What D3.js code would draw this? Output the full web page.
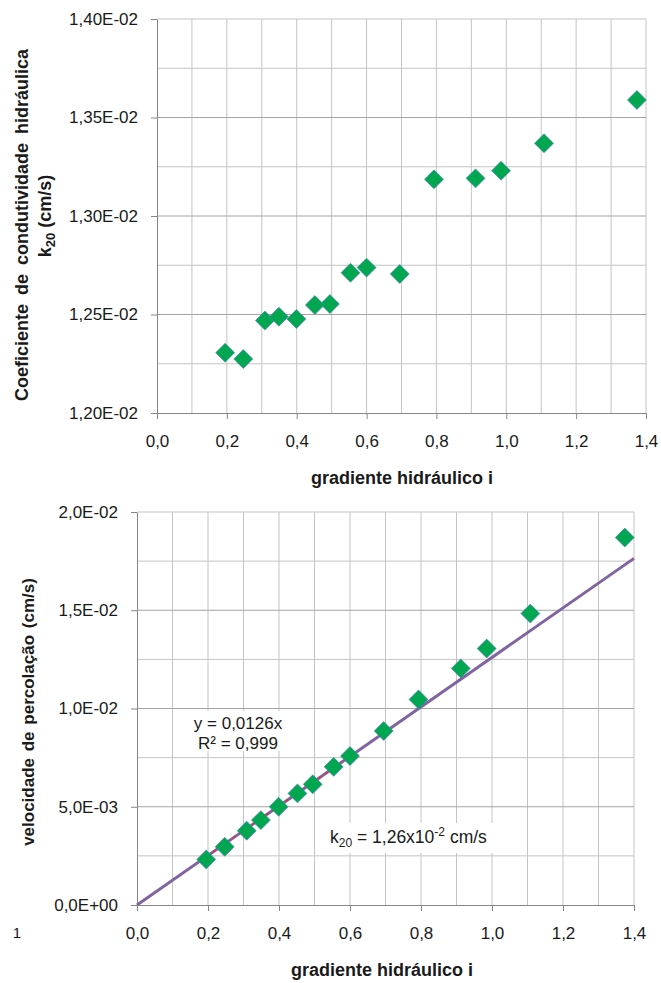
<!DOCTYPE html>
<html>
<head>
<meta charset="utf-8">
<script src="https://cdn.jsdelivr.net/npm/d3@7"></script>
<style>
    body { margin: 0; background: #fff; }
    svg { display: block; font-family: "Liberation Sans", Arial, sans-serif; }
</style>
</head>
<body>
<div id="chart"></div>
<script>
// Data
const gradient = [0.195, 0.247, 0.309, 0.349, 0.399, 0.452, 0.495, 0.554, 0.600, 0.695, 0.793, 0.912, 0.985, 1.108, 1.374];
const k20 = [0.012306, 0.012274, 0.012469, 0.012489, 0.012477, 0.012548, 0.012553, 0.012712, 0.012738, 0.012706, 0.013186, 0.013191, 0.013230, 0.013369, 0.013589];
const velocity = [0.00232, 0.00296, 0.00378, 0.00432, 0.00500, 0.00568, 0.00614, 0.00703, 0.00758, 0.00886, 0.01046, 0.01204, 0.01305, 0.01483, 0.01870];

const xTicks = [0, 0.2, 0.4, 0.6, 0.8, 1.0, 1.2, 1.4];
const kTicks = [0.012, 0.0125, 0.013, 0.0135, 0.014];
const vTicks = [0, 0.005, 0.01, 0.015, 0.02];

const fitSlope = 0.0126;
const fitRange = [0, 1.4];
const dashRange = [gradient[0], gradient[8]];

const textColor = '#1a1a1a';
const markerColor = '#00a650';

const svg = d3.select('#chart').append('svg')
    .attr('width', 661)
    .attr('height', 983);

// "1,40E-02" style tick labels
function fmtE(digits) {
    return v => {
        const [m, e] = v.toExponential(digits).split('e');
        const sign = e[0] === '-' ? '-' : '+';
        return m.replace('.', ',') + 'E' + sign + String(Math.abs(+e)).padStart(2, '0');
    };
}

function drawPanel(box, yDomain, yMinorStep, yTicks, yDigits) {
    const g = svg.append('g');
    const x = d3.scaleLinear().domain([0, 1.4]).range([box.left, box.right]);
    const y = d3.scaleLinear().domain(yDomain).range([box.bottom, box.top]);

    // vertical grid
    g.append('g').selectAll('line')
        .data(d3.range(1, 15).map(d => d / 10))
        .enter().append('line')
        .attr('x1', d => x(d)).attr('x2', d => x(d))
        .attr('y1', box.top).attr('y2', box.bottom)
        .attr('stroke', '#c4c4c4')
        .attr('stroke-width', 1);

    // horizontal grid, labelled lines a bit darker
    const nLines = Math.round((yDomain[1] - yDomain[0]) / yMinorStep);
    g.append('g').selectAll('line')
        .data(d3.range(1, nLines + 1))
        .enter().append('line')
        .attr('x1', box.left).attr('x2', box.right)
        .attr('y1', i => y(yDomain[0] + i * yMinorStep))
        .attr('y2', i => y(yDomain[0] + i * yMinorStep))
        .attr('stroke', i => (i % 2 === 0 && i !== nLines) ? '#a4a4a4' : '#c4c4c4')
        .attr('stroke-width', 1);

    // axes
    const yAxis = g.append('g')
        .attr('transform', `translate(${box.left},0)`)
        .call(d3.axisLeft(y).tickValues(yTicks).tickSize(6).tickSizeOuter(0)
            .tickPadding(13).tickFormat(fmtE(yDigits)));

    const xAxis = g.append('g')
        .attr('transform', `translate(0,${box.bottom})`)
        .call(d3.axisBottom(x).tickValues(xTicks).tickSize(6).tickSizeOuter(0)
            .tickPadding(16).tickFormat(d => d3.format('.1f')(d).replace('.', ',')));

    [xAxis, yAxis].forEach(a => {
        a.select('.domain').attr('stroke', '#868686');
        a.selectAll('.tick line').attr('stroke', '#868686');
        a.selectAll('text')
            .attr('fill', textColor)
            .attr('font-size', '17px')
            .attr('font-family', '"Liberation Sans", Arial, sans-serif');
    });

    return { g, x, y };
}

function drawMarkers(panel, yVals) {
    panel.g.append('g').selectAll('path')
        .data(gradient.map((d, i) => [d, yVals[i]]))
        .enter().append('path')
        .attr('d', d3.symbol(d3.symbolSquare, 180))
        .attr('transform', d => `translate(${panel.x(d[0])},${panel.y(d[1])}) rotate(45)`)
        .attr('fill', markerColor)
        .attr('stroke', '#4f81bd')
        .attr('stroke-width', 0.6);
}

// ---------- top chart ----------
const topPanel = drawPanel({ left: 157, right: 646, top: 19, bottom: 413 }, [0.012, 0.014], 0.00025, kTicks, 2);
drawMarkers(topPanel, k20);

svg.append('text')
    .attr('x', 402).attr('y', 484)
    .attr('text-anchor', 'middle')
    .attr('font-size', '18px').attr('font-weight', 'bold')
    .attr('fill', textColor)
    .text('gradiente hidráulico i');

svg.append('text')
    .attr('transform', 'translate(28,225) rotate(-90)')
    .attr('text-anchor', 'middle')
    .attr('font-size', '18px').attr('font-weight', 'bold')
    .attr('word-spacing', 4)
    .attr('fill', textColor)
    .text('Coeficiente de condutividade hidráulica');

const kUnit = svg.append('text')
    .attr('transform', 'translate(51,216) rotate(-90)')
    .attr('text-anchor', 'middle')
    .attr('font-size', '18px').attr('font-weight', 'bold')
    .attr('fill', textColor);
kUnit.append('tspan').text('k');
kUnit.append('tspan').attr('font-size', '13px').attr('dy', 4).text('20');
kUnit.append('tspan').attr('dy', -4).text(' (cm/s)');

// ---------- bottom chart ----------
const bottomPanel = drawPanel({ left: 137, right: 634, top: 512, bottom: 905 }, [0, 0.02], 0.0025, vTicks, 1);

// linear fit through the origin
const fitLine = d3.line().x(d => bottomPanel.x(d)).y(d => bottomPanel.y(fitSlope * d));
bottomPanel.g.append('path')
    .datum(fitRange)
    .attr('d', fitLine)
    .attr('fill', 'none')
    .attr('stroke', '#8064a2')
    .attr('stroke-width', 3);
bottomPanel.g.append('path')
    .datum(dashRange)
    .attr('d', fitLine)
    .attr('fill', 'none')
    .attr('stroke', '#e03030')
    .attr('stroke-width', 1.2)
    .attr('stroke-dasharray', '4,4');

drawMarkers(bottomPanel, velocity);

// equation label
svg.append('rect')
    .attr('x', 186).attr('y', 711).attr('width', 106).attr('height', 40)
    .attr('fill', '#fff');
svg.append('text')
    .attr('x', 238).attr('y', 729)
    .attr('text-anchor', 'middle')
    .attr('font-size', '17px').attr('fill', textColor)
    .text('y = 0,0126x');
svg.append('text')
    .attr('x', 238).attr('y', 749)
    .attr('text-anchor', 'middle')
    .attr('font-size', '17px').attr('fill', textColor)
    .text('R² = 0,999');

// k20 label
svg.append('rect')
    .attr('x', 322).attr('y', 823).attr('width', 180).attr('height', 30)
    .attr('fill', '#fff');
const kLabel = svg.append('text')
    .attr('x', 330).attr('y', 843)
    .attr('font-size', '17.5px').attr('fill', textColor);
kLabel.append('tspan').text('k');
kLabel.append('tspan').attr('font-size', '12px').attr('dy', 4).text('20');
kLabel.append('tspan').attr('dy', -4).text(' = 1,26x10');
kLabel.append('tspan').attr('font-size', '12px').attr('dy', -7).text('-2');
kLabel.append('tspan').attr('dy', 7).text(' cm/s');

svg.append('text')
    .attr('x', 382).attr('y', 976)
    .attr('text-anchor', 'middle')
    .attr('font-size', '18px').attr('font-weight', 'bold')
    .attr('fill', textColor)
    .text('gradiente hidráulico i');

svg.append('text')
    .attr('transform', 'translate(34,712) rotate(-90)')
    .attr('text-anchor', 'middle')
    .attr('font-size', '17px').attr('font-weight', 'bold')
    .attr('word-spacing', 2)
    .attr('fill', textColor)
    .text('velocidade de percolação  (cm/s)');

// stray mark at the lower left
svg.append('text')
    .attr('x', 17).attr('y', 938)
    .attr('text-anchor', 'middle')
    .attr('font-size', '15px').attr('fill', textColor)
    .text('1');
</script>
</body>
</html>
